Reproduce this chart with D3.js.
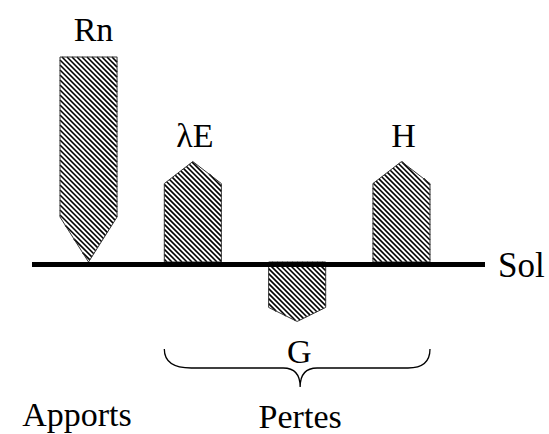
<!DOCTYPE html>
<html>
<head>
<meta charset="utf-8">
<script src="https://cdn.jsdelivr.net/npm/d3@7"></script>
<style>
  body { margin: 0; background: #fff; }
</style>
</head>
<body>
<div id="chart"></div>
<script>
// energy fluxes at the surface (relative units)
const fluxes = ["Rn", "λE", "G", "H"];
const values = [100, 49, 29, 49];
const direction = ["down", "up", "down", "up"]; // down = toward the ground
const groups = ["Apports", "Pertes"];
const groundLabel = "Sol";

const width = 549, height = 434;
const groundY = 262;

const svg = d3.select("#chart").append("svg")
  .attr("width", width)
  .attr("height", height);

const x = d3.scaleBand()
  .domain(fluxes)
  .range([60, 430])
  .paddingInner(0.453)
  .paddingOuter(0);

const y = d3.scaleLinear().domain([0, 100]).range([0, 205]);

// head length of each arrow
const head = { "Rn": 45, "λE": 22, "G": 14, "H": 22 };

const data = fluxes.map((name, i) => ({ name, value: values[i], dir: direction[i] }));

function arrowPoints(d) {
  const x0 = x(d.name), x1 = x0 + x.bandwidth(), xc = x0 + x.bandwidth() / 2;
  const len = y(d.value), h = head[d.name];
  if (d.name === "Rn") {
    // incoming from above, tip on the ground
    const top = groundY - len;
    return [[x0, top], [x1, top], [x1, groundY - h], [xc, groundY], [x0, groundY - h]];
  }
  if (d.dir === "up") {
    const tip = groundY - len;
    return [[x0, groundY], [x0, tip + h], [xc, tip], [x1, tip + h], [x1, groundY]];
  }
  const tip = groundY + len;
  return [[x0, groundY], [x0, tip - h], [xc, tip], [x1, tip - h], [x1, groundY]];
}

// diagonal hatch segments inside a convex polygon (lines x - y = c)
function hatch(pts, step) {
  const s = pts.map(p => p[0] - p[1]);
  const lo = Math.ceil(d3.min(s) / step) * step, hi = d3.max(s);
  const segs = [];
  for (let c = lo; c <= hi; c += step) {
    const hits = [];
    for (let i = 0; i < pts.length; i++) {
      const p = pts[i], q = pts[(i + 1) % pts.length];
      const sp = s[i], sq = s[(i + 1) % pts.length];
      if (sp === sq) continue;
      if ((sp - c) * (sq - c) <= 0) {
        const t = (c - sp) / (sq - sp);
        hits.push([p[0] + t * (q[0] - p[0]), p[1] + t * (q[1] - p[1])]);
      }
    }
    if (hits.length >= 2) {
      const a = d3.least(hits, h => h[0]), b = d3.greatest(hits, h => h[0]);
      segs.push([a, b]);
    }
  }
  return segs;
}

// labels first
svg.selectAll(".lab")
  .data(data)
  .enter().append("text")
  .attr("x", d => x(d.name) + x.bandwidth() / 2 + (d.name === "Rn" ? 5 : 2))
  .attr("y", d => {
    if (d.name === "Rn") return groundY - y(d.value) - 16;
    if (d.dir === "up") return groundY - y(d.value) - 15;
    return groundY + y(d.value) + 42;
  })
  .attr("text-anchor", "middle")
  .attr("font-family", "Times New Roman")
  .attr("font-size", 34)
  .text(d => d.name);

svg.append("text")
  .attr("x", 498).attr("y", 277)
  .attr("font-family", "Times New Roman")
  .attr("font-size", 35)
  .text(groundLabel);

const arrows = svg.selectAll(".arrow")
  .data(data)
  .enter().append("g")
  .attr("class", "arrow");

arrows.append("path")
  .attr("d", d => d3.line()(arrowPoints(d)) + "Z")
  .attr("fill", "#fff");

arrows.selectAll("line")
  .data(d => hatch(arrowPoints(d), 5))
  .enter().append("line")
  .attr("x1", s => s[0][0]).attr("y1", s => s[0][1])
  .attr("x2", s => s[1][0]).attr("y2", s => s[1][1])
  .attr("stroke", "#000")
  .attr("stroke-width", 1.6);

arrows.append("path")
  .attr("d", d => d3.line()(arrowPoints(d)) + "Z")
  .attr("fill", "none")
  .attr("stroke", "#333")
  .attr("stroke-width", 1);

// ground
svg.append("line")
  .attr("x1", 32).attr("x2", 485)
  .attr("y1", groundY + 2.5).attr("y2", groundY + 2.5)
  .attr("stroke", "#000")
  .attr("stroke-width", 5);

// brace under the losses
const bx0 = x("λE"), bx1 = x("H") + x.bandwidth();
const bm = (bx0 + bx1) / 2 + 3, bt = 349, bl = 368, bp = 387;
svg.append("path")
  .attr("d", `M${bx0},${bt}Q${bx0},${bl} ${bx0 + 27},${bl}L${bm - 17},${bl}Q${bm},${bl} ${bm},${bp}` +
             `Q${bm},${bl} ${bm + 17},${bl}L${bx1 - 22},${bl}Q${bx1},${bl} ${bx1},${bt}`)
  .attr("fill", "none")
  .attr("stroke", "#000")
  .attr("stroke-width", 1.3);

svg.selectAll(".grp")
  .data(groups)
  .enter().append("text")
  .attr("x", (d, i) => i === 0 ? 77 : bm)
  .attr("y", (d, i) => i === 0 ? 426 : 428)
  .attr("text-anchor", "middle")
  .attr("font-family", "Times New Roman")
  .attr("font-size", 34)
  .text(d => d);
</script>
</body>
</html>
